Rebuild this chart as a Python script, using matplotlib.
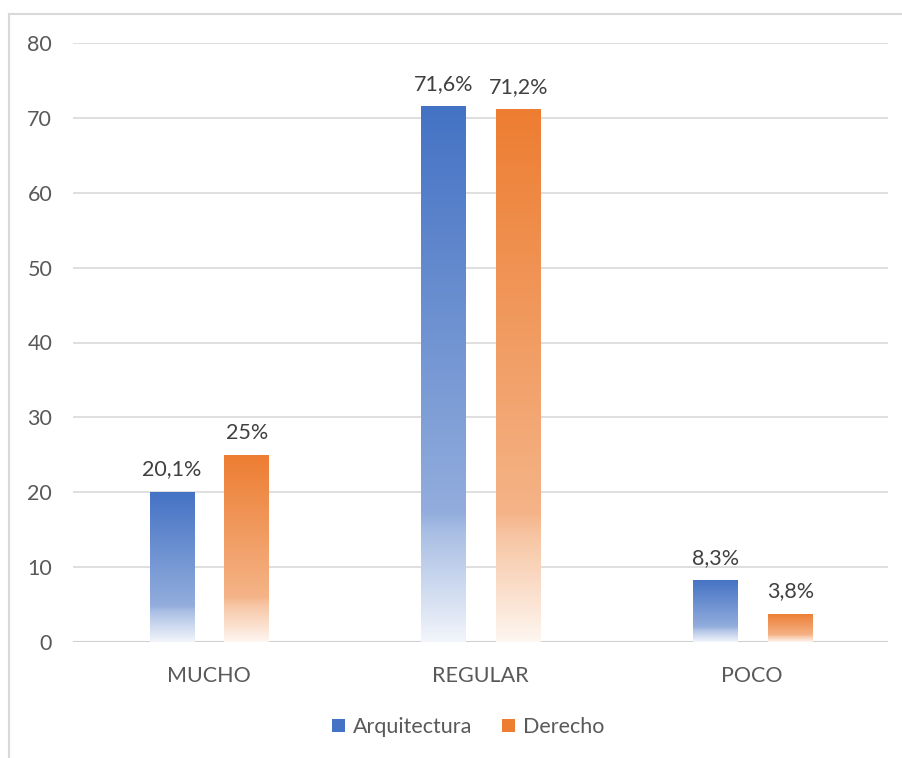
import numpy as np
import matplotlib.pyplot as plt
from matplotlib.colors import LinearSegmentedColormap, to_rgb
from matplotlib.patches import Patch
from matplotlib.lines import Line2D

# data
categories = ['MUCHO', 'REGULAR', 'POCO']
arquitectura = [20.1, 71.6, 8.3]
derecho = [25, 71.2, 3.8]
labels_arq = ['20,1%', '71,6%', '8,3%']
labels_der = ['25%', '71,2%', '3,8%']
series_names = ['Arquitectura', 'Derecho']
colors = ['#4472C4', '#ED7D31']

plt.rcParams['font.family'] = ['Lato', 'DejaVu Sans']

fig = plt.figure(figsize=(9.03, 7.58), dpi=100)
ax = fig.add_axes([73/903, 1 - 642/758, (888-73)/903, (642-43)/758])


def mix(c, t):
    # blend colour c with white by amount t
    r = np.array(to_rgb(c))
    return tuple(r + (1 - r) * t)


def grad_cmap(c):
    # 0 = bottom, 1 = top
    return LinearSegmentedColormap.from_list(
        'g', [(0.0, mix(c, 0.93)), (0.2, mix(c, 0.55)),
              (0.24, mix(c, 0.42)), (1.0, mix(c, 0.0))])


x = np.arange(len(categories))
w = 0.165
offs = [-0.135, 0.14]
grad = np.linspace(0, 1, 256).reshape(-1, 1)

for vals, labs, off, c in zip([arquitectura, derecho], [labels_arq, labels_der], offs, colors):
    bars = ax.bar(x + off, vals, w, color='none', edgecolor='none', zorder=3)
    cm = grad_cmap(c)
    for b, v, lab in zip(bars, vals, labs):
        x0 = b.get_x()
        im = ax.imshow(grad, cmap=cm, origin='lower', aspect='auto',
                       extent=[x0, x0 + w, 0, v], zorder=3)
        im.set_clip_path(b)
        ax.text(x0 + w / 2, v + 1.6, lab, ha='center', va='bottom',
                fontsize=15.5, color='#404040')

ax.set_xlim(-0.5, 2.5)
ax.set_ylim(0, 80)
ax.set_yticks(np.arange(0, 81, 10))
ax.set_xticks(x)
ax.set_xticklabels(categories)
ax.tick_params(axis='both', length=0, labelsize=15.5, colors='#595959')
ax.tick_params(axis='y', pad=15)
ax.tick_params(axis='x', pad=17)
ax.grid(axis='y', color='#d9d9d9', linewidth=1.2, zorder=0)
ax.set_axisbelow(True)
for s in ax.spines.values():
    s.set_visible(False)
ax.axhline(0, color='#d0d0d0', linewidth=1.5, zorder=2)

handles = [Patch(facecolor=c, edgecolor='none') for c in colors]
fig.legend(handles, series_names, loc='center', bbox_to_anchor=(468/903, 1 - 727/758),
           ncol=2, frameon=False, fontsize=15.5, labelcolor='#595959',
           handlelength=0.6, handleheight=0.6, handletextpad=0.35, columnspacing=1.4)

# outer chart border (left and top only visible)
fig.add_artist(Line2D([9.5/903, 9.5/903], [0, 1 - 13.5/758], color='#d9d9d9', linewidth=1.5))
fig.add_artist(Line2D([9.5/903, 1], [1 - 13.5/758, 1 - 13.5/758], color='#d9d9d9', linewidth=1.5))

fig.savefig('out.png', dpi=100)
